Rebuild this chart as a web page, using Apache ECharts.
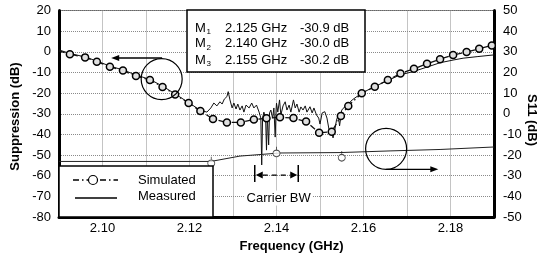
<!DOCTYPE html>
<html><head><meta charset="utf-8">
<script src="https://cdn.jsdelivr.net/npm/echarts@6/dist/echarts.min.js"></script>
<style>html,body{margin:0;padding:0;background:#fff}#c{width:548px;height:258px}</style>
</head><body><div id="c"></div>
<script>
// ---- data ----
const simFreq = [2.0900,2.0925,2.0960,2.0987,2.1017,2.1047,2.1077,2.1109,2.1138,2.1167,2.1198,2.1225,2.1254,2.1286,2.1318,2.1348,2.1377,2.1408,2.1439,2.1468,2.1498,2.1527,2.1548,2.1565,2.1596,2.1626,2.1656,2.1685,2.1716,2.1746,2.1776,2.1806,2.1837,2.1866,2.1895];
const simDb = [0.5,-1.2,-2.7,-4.8,-7.2,-9.1,-11.7,-13.7,-17.0,-20.7,-24.8,-28.7,-32.5,-34.2,-34.2,-32.8,-32.2,-31.7,-32.1,-33.8,-39.2,-38.7,-31.1,-26.2,-20.1,-16.9,-13.7,-10.5,-8.2,-5.8,-3.6,-1.5,-0.1,1.5,3.05];

const measFreq = [2.0900,2.0925,2.0960,2.0987,2.1017,2.1047,2.1077,2.1109,2.1138,2.1167,2.1198,2.1224,2.1240,2.1249,2.1256,2.1263,2.1270,2.1275,2.1280,2.1286,2.1289,2.1293,2.1298,2.1302,2.1307,2.1311,2.1316,2.1321,2.1325,2.1330,2.1337,2.1343,2.1348,2.1354,2.1360,2.1364,2.1366,2.1368,2.1371,2.1375,2.1377,2.1379,2.1382,2.1384,2.1387,2.1391,2.1394,2.1397,2.1399,2.1400,2.1403,2.1407,2.1410,2.1415,2.1420,2.1424,2.1429,2.1433,2.1439,2.1443,2.1447,2.1452,2.1456,2.1461,2.1466,2.1470,2.1477,2.1482,2.1486,2.1492,2.1497,2.1500,2.1505,2.1511,2.1516,2.1523,2.1526,2.1530,2.1534,2.1538,2.1542,2.1545,2.1550,2.1557,2.1565,2.1574,2.1596,2.1626,2.1656,2.1684,2.1714,2.1746,2.1776,2.1806,2.1829,2.1863,2.1900];
const measDb = [0.9,-0.8,-2.5,-4.5,-6.9,-8.8,-11.2,-13.4,-16.6,-20.4,-24.6,-28.2,-29.2,-27.2,-24.8,-26.2,-24.2,-25.3,-22.9,-21.7,-19.3,-23.3,-27.2,-24.8,-27.7,-25.3,-28.2,-26.2,-29.2,-25.8,-27.2,-24.8,-27.2,-25.8,-29.2,-32.1,-54.8,-32.1,-29.2,-32.1,-47.6,-31.1,-45.1,-29.6,-28.2,-32.1,-27.2,-41.3,-28.2,-24.9,-29.2,-23.3,-30.6,-26.2,-24.2,-28.2,-25.8,-29.2,-23.3,-27.2,-25.3,-29.2,-26.7,-28.2,-26.2,-29.2,-26.6,-29.6,-27.2,-30.6,-32.1,-35.0,-29.6,-29.0,-32.1,-40.3,-38.4,-41.7,-37.9,-33.0,-30.6,-35.9,-28.2,-26.6,-25.3,-23.3,-20.0,-16.8,-13.9,-11.2,-9.6,-7.4,-5.3,-4.0,-3.1,-2.3,-1.5];

const s11Freq = [2.0900,2.1249,2.1316,2.1408,2.1546,2.1661,2.1776,2.1900];
const s11Db = [-23.1,-23.1,-20.5,-19.0,-18.8,-18.0,-17.3,-16.1];

const markerFreq = [2.125, 2.140, 2.155];
const markerS11 = [-23.2, -18.4, -20.5];

const tableIdx = ['1','2','3'];
const tableFreq = ['2.125 GHz','2.140 GHz','2.155 GHz'];
const tableVal = ['-30.9 dB','-30.0 dB','-30.2 dB'];

const legendNames = ['Simulated','Measured'];
const xTitle = 'Frequency (GHz)';
const yTitle = 'Suppression (dB)';
const y2Title = 'S11 (dB)';
const bwLabel = 'Carrier BW';

// ---- chart ----
const FONT = 'Liberation Sans, Arial, sans-serif';
const chart = echarts.init(document.getElementById('c'), null, {renderer:'canvas'});

const simData = simFreq.map((f,i)=> i===0 ? {value:[f,simDb[i]], symbol:'none'} : [f,simDb[i]]);
const measData = measFreq.map((f,i)=>[f,measDb[i]]);
const s11Data = s11Freq.map((f,i)=>[f,s11Db[i]]);
const mkData = markerFreq.map((f,i)=>[f,markerS11[i]]);

chart.setOption({
  animation:false,
  backgroundColor:'#fff',
  grid:{left:59,right:54,top:10.5,bottom:41,show:true,borderColor:'#666',borderWidth:1,backgroundColor:'transparent'},
  xAxis:{type:'value',min:2.09,max:2.19,interval:0.01,
    axisLine:{show:true,onZero:false,lineStyle:{color:'#000',width:3}},
    axisTick:{show:false},
    axisLabel:{margin:5,color:'#000',fontSize:13,fontFamily:FONT,
      formatter:v=>{const k=Math.round(v*100);return k%2===0?(k/100).toFixed(2):'';}},
    splitLine:{show:true,lineStyle:{type:'dotted',color:'#8a8a8a',width:1}}},
  yAxis:[
    {type:'value',min:-80,max:20,interval:10,position:'left',
      axisLine:{show:true,onZero:false,lineStyle:{color:'#000',width:3}},axisTick:{show:false},
      axisLabel:{margin:8,color:'#000',fontSize:13,fontFamily:FONT},
      splitLine:{show:true,lineStyle:{type:'dotted',color:'#8a8a8a',width:1}}},
    {type:'value',min:-50,max:50,interval:10,position:'right',
      axisLine:{show:true,onZero:false,lineStyle:{color:'#000',width:3}},axisTick:{show:false},
      axisLabel:{margin:9,color:'#000',fontSize:13,fontFamily:FONT},
      splitLine:{show:false}}
  ],
  series:[
    {name:legendNames[0],type:'line',yAxisIndex:0,data:simData,
      symbol:'circle',symbolSize:7,showAllSymbol:true,
      itemStyle:{color:'#e0e0e0',borderColor:'#000',borderWidth:1.5},
      lineStyle:{color:'#111',width:1.3,type:[6,3,1.5,3]},z:3},
    {name:legendNames[1],type:'line',yAxisIndex:0,data:measData,symbol:'none',
      lineStyle:{color:'#111',width:1},z:2},
    {name:'S11',type:'line',yAxisIndex:1,data:s11Data,symbol:'none',
      lineStyle:{color:'#222',width:1},z:2},
    {name:'M',type:'scatter',yAxisIndex:1,data:mkData,
      symbol:'path://M4,0 L4,4 M0,8 A4,4 0 1,1 8,8 A4,4 0 1,1 0,8 Z',symbolSize:[7,10],
      itemStyle:{color:'#fff',borderColor:'#222',borderWidth:1},z:4}
  ]
});

function P(f,d){return chart.convertToPixel({seriesIndex:1},[f,d]);}

// annotation anchors in data units (left axis)
const cL = P(2.1136,-13.2), aL1 = P(2.1137,-3.0), aL2 = P(2.1020,-3.0);
const cR = P(2.1652,-47.0), aR1 = P(2.1652,-56.9), aR2 = P(2.1772,-56.9);
const bw1 = P(2.135,-54.8), bw1b = P(2.135,-63.0), bw2 = P(2.145,-54.8), bw2b = P(2.145,-63.0);
const bwy = P(2.14,-59.7)[1];
const bwT = P(2.1405,-70.8);

const T = (text,x,y,opt={})=>Object.assign({type:'text',x:x,y:y,z:20,
  style:Object.assign({text:text,fill:'#000',font:'13px '+FONT,textAlign:'left',textVerticalAlign:'middle'},opt.style||{})},opt.root||{});

const g = [];
// circles and arrows
g.push({type:'circle',z:15,shape:{cx:cL[0],cy:cL[1],r:20.5},style:{fill:'none',stroke:'#000',lineWidth:1.2}});
g.push({type:'line',z:15,shape:{x1:aL1[0],y1:aL1[1],x2:aL2[0]+6,y2:aL2[1]},style:{stroke:'#000',lineWidth:1.3}});
g.push({type:'polygon',z:15,shape:{points:[[aL2[0],aL2[1]],[aL2[0]+8,aL2[1]-3],[aL2[0]+8,aL2[1]+3]]},style:{fill:'#000'}});
g.push({type:'circle',z:15,shape:{cx:cR[0],cy:cR[1],r:20.5},style:{fill:'none',stroke:'#000',lineWidth:1.2}});
g.push({type:'line',z:15,shape:{x1:aR1[0],y1:aR1[1],x2:aR2[0]-6,y2:aR2[1]},style:{stroke:'#000',lineWidth:1.3}});
g.push({type:'polygon',z:15,shape:{points:[[aR2[0],aR2[1]],[aR2[0]-8,aR2[1]-3],[aR2[0]-8,aR2[1]+3]]},style:{fill:'#000'}});
// carrier BW
g.push({type:'line',z:15,shape:{x1:bw1[0],y1:bw1[1],x2:bw1b[0],y2:bw1b[1]},style:{stroke:'#000',lineWidth:1.5}});
g.push({type:'line',z:15,shape:{x1:bw2[0],y1:bw2[1],x2:bw2b[0],y2:bw2b[1]},style:{stroke:'#000',lineWidth:1.5}});
g.push({type:'polygon',z:15,shape:{points:[[bw1[0]+1,bwy],[bw1[0]+8,bwy-3.5],[bw1[0]+8,bwy+3.5]]},style:{fill:'#000'}});
g.push({type:'polygon',z:15,shape:{points:[[bw2[0]-1,bwy],[bw2[0]-8,bwy-3.5],[bw2[0]-8,bwy+3.5]]},style:{fill:'#000'}});
g.push({type:'line',z:15,shape:{x1:bw1[0]+8,y1:bwy,x2:bw2[0]-8,y2:bwy},style:{stroke:'#000',lineWidth:1.2,lineDash:[5,4]}});
g.push(T(bwLabel,bwT[0],bwT[1],{style:{textAlign:'center',backgroundColor:'#fff',padding:[1,2]}}));

// marker table
g.push({type:'rect',z:18,shape:{x:187,y:10,width:178,height:62},style:{fill:'#fff',stroke:'#000',lineWidth:1.5}});
const rowY = [28,43.5,60];
tableIdx.forEach((s,i)=>{
  g.push(T('M',195,rowY[i]));
  g.push(T(s,206.5,rowY[i]+4,{style:{font:'8px '+FONT}}));
  g.push(T(tableFreq[i],225,rowY[i]));
  g.push(T(tableVal[i],300,rowY[i]));
});

// legend box
g.push({type:'rect',z:18,shape:{x:59,y:166,width:154,height:51},style:{fill:'#fff',stroke:'#000',lineWidth:1.5}});
g.push({type:'line',z:19,shape:{x1:73,y1:180,x2:118,y2:180},style:{stroke:'#000',lineWidth:1.3,lineDash:[6,3,1.5,3]}});
g.push({type:'circle',z:20,shape:{cx:93,cy:180,r:4.5},style:{fill:'#fff',stroke:'#000',lineWidth:1.2}});
g.push({type:'line',z:19,shape:{x1:75,y1:198,x2:117,y2:198},style:{stroke:'#000',lineWidth:1.5}});
g.push(T(legendNames[0],138,180));
g.push(T(legendNames[1],138,196));

// axis titles
g.push(T(xTitle,291.5,246,{style:{textAlign:'center',font:'bold 13px '+FONT}}));
g.push(T(yTitle,15,116.5,{style:{textAlign:'center',font:'bold 13px '+FONT},root:{rotation:Math.PI/2}}));
g.push(T(y2Title,532,120,{style:{textAlign:'center',font:'bold 13px '+FONT},root:{rotation:-Math.PI/2}}));

chart.setOption({graphic:g});
</script>
</body></html>
